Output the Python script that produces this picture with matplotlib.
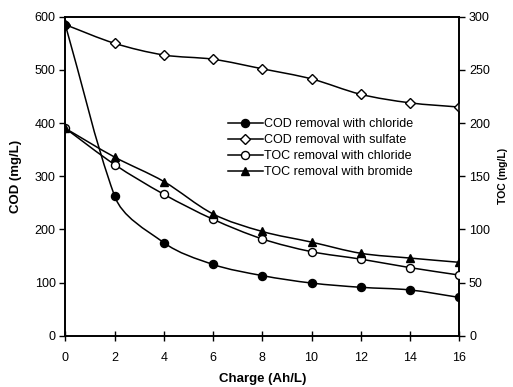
import matplotlib.pyplot as plt
import numpy as np
from matplotlib.path import Path
from matplotlib.patches import PathPatch
from matplotlib.lines import Line2D

plt.rcParams['font.family'] = ['Liberation Sans', 'DejaVu Sans']
plt.rcParams['font.size'] = 9

charge = [0, 2, 4, 6, 8, 10, 12, 14, 16]
cod_chloride = [585, 263, 175, 134, 113, 99, 91, 86, 72]
cod_sulfate = [585, 550, 528, 520, 502, 483, 454, 438, 430]
toc_chloride = [195, 161, 133, 109.5, 91, 79, 72, 64, 57]
toc_bromide = [195, 168, 145, 114.5, 98, 88, 77.5, 73, 69]


def smooth_path(ax, x, y):
    # smoothed line like excel, handles worked out in pixel space
    tr = ax.transData
    p = tr.transform(np.column_stack([x, y]))
    n = len(p)
    seg = [p[i + 1] - p[i] for i in range(n - 1)]
    seglen = [np.linalg.norm(s) for s in seg]
    tang = []
    for i in range(n):
        if i == 0:
            d = seg[0]
        elif i == n - 1:
            d = seg[-1]
        else:
            # lean towards the longer neighbour segment
            d = seg[i - 1] * seglen[i - 1] + seg[i] * seglen[i]
        tang.append(d / np.linalg.norm(d))
    verts = [p[0]]
    codes = [Path.MOVETO]
    for i in range(n - 1):
        h = seglen[i] / 3
        verts += [p[i] + tang[i] * h, p[i + 1] - tang[i + 1] * h, p[i + 1]]
        codes += [Path.CURVE4] * 3
    verts = tr.inverted().transform(np.array(verts))
    return Path(verts, codes)


def draw(ax, x, y, marker, mfc, ms, z):
    ax.add_patch(PathPatch(smooth_path(ax, x, y), fill=False, ec='black', lw=1.1, zorder=2))
    ax.plot(x, y, ls='none', marker=marker, ms=ms, mfc=mfc, mec='black', mew=1.0, zorder=z)


fig = plt.figure(figsize=(5.13, 3.87), dpi=100)
ax = fig.add_axes([0.1273, 0.1326, 0.768, 0.8242])
ax2 = ax.twinx()

ax.set_xlim(0, 16)
ax.set_ylim(0, 600)
ax2.set_ylim(0, 300)

draw(ax, charge, cod_sulfate, 'D', 'white', 4.8, 3)
draw(ax, charge, cod_chloride, 'o', 'black', 5.8, 4)
draw(ax2, charge, toc_chloride, 'o', 'white', 5.8, 3)
draw(ax2, charge, toc_bromide, '^', 'black', 5.8, 4)

ax.set_xticks(range(0, 17, 2))
ax.set_yticks(range(0, 601, 100))
ax2.set_yticks(range(0, 301, 50))

for a in (ax, ax2):
    for s in a.spines.values():
        s.set_linewidth(1.2)
ax.tick_params(axis='y', direction='out', length=4, width=1, pad=3)
ax.tick_params(axis='x', direction='inout', length=7, width=1, pad=8)
ax2.tick_params(axis='y', direction='out', length=4, width=1, pad=3)

ax.set_xlabel('Charge (Ah/L)', fontweight='bold', fontsize=9.5, labelpad=7)
ax.set_ylabel('COD (mg/L)', fontweight='bold', fontsize=9.5, labelpad=9)
ax2.set_ylabel('TOC (mg/L)', fontweight='bold', fontsize=7.5, labelpad=6)

handles = [
    Line2D([], [], color='black', lw=1.1, marker='o', ms=5.8, mfc='black', mec='black'),
    Line2D([], [], color='black', lw=1.1, marker='D', ms=4.8, mfc='white', mec='black'),
    Line2D([], [], color='black', lw=1.1, marker='o', ms=5.8, mfc='white', mec='black'),
    Line2D([], [], color='black', lw=1.1, marker='^', ms=5.8, mfc='black', mec='black'),
]
labels = ['COD removal with chloride', 'COD removal with sulfate',
          'TOC removal with chloride', 'TOC removal with bromide']
ax2.legend(handles, labels, loc='upper left', bbox_to_anchor=(0.4, 0.697),
           frameon=False, handlelength=2.8, handletextpad=0.05,
           labelspacing=0.32, borderaxespad=0)

fig.savefig('out.png', dpi=100)
